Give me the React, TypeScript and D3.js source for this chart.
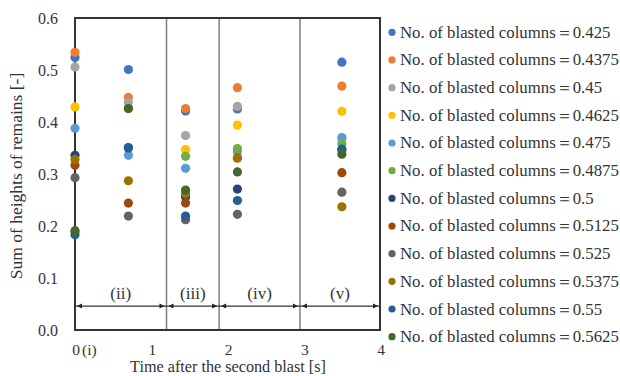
import React from "react";
import * as d3 from "d3";

const times = [0, 0.7, 1.45, 2.13, 3.5];
const seriesLabels = ["0.425", "0.4375", "0.45", "0.4625", "0.475", "0.4875", "0.5", "0.5125", "0.525", "0.5375", "0.55", "0.5625"];
const seriesColors = ["#4472C4", "#ED7D31", "#A5A5A5", "#FFC000", "#5B9BD5", "#70AD47", "#264478", "#9E480E", "#636363", "#997300", "#255E91", "#43682B"];
const s0425 = [0.524, 0.501, 0.421, 0.425, 0.515];
const s04375 = [0.534, 0.4475, 0.426, 0.466, 0.469];
const s045 = [0.506, 0.438, 0.374, 0.43, 0.368];
const s04625 = [0.429, 0.426, 0.347, 0.394, 0.4205];
const s0475 = [0.388, 0.336, 0.311, 0.343, 0.37];
const s04875 = [0.189, 0.426, 0.334, 0.349, 0.358];
const s05 = [0.336, 0.35, 0.256, 0.271, 0.346];
const s05125 = [0.317, 0.244, 0.244, 0.331, 0.3025];
const s0525 = [0.293, 0.219, 0.212, 0.2225, 0.265];
const s05375 = [0.328, 0.287, 0.262, 0.331, 0.237];
const s055 = [0.183, 0.351, 0.219, 0.249, 0.348];
const s05625 = [0.191, 0.426, 0.269, 0.304, 0.338];
const seriesValues = [s0425, s04375, s045, s04625, s0475, s04875, s05, s05125, s0525, s05375, s055, s05625];

const xTicks = [0, 1, 2, 3, 4];
const yTicks = [0, 0.1, 0.2, 0.3, 0.4, 0.5, 0.6];
const phaseBounds = [0, 1.2, 1.89, 2.95, 4];
const phaseLabels = ["(ii)", "(iii)", "(iv)", "(v)"];
const arrowLevel = 0.046;

const FONT = "Liberation Serif, Times New Roman, serif";

export default function App() {
  const W = 620, H = 376;
  const x = d3.scaleLinear().domain([0, 4]).range([75, 380]);
  const y = d3.scaleLinear().domain([0, 0.6]).range([330, 18]);
  const textColor = "#333";
  const ay = y(arrowLevel);

  const arrowHead = (xp: number, dir: number, key: string) => (
    <path key={key} d={`M${xp},${ay} L${xp + dir * 5},${ay - 2.5} L${xp + dir * 5},${ay + 2.5} Z`} fill="#222" />
  );

  return (
    <svg width={W} height={H} style={{ position: "absolute", left: 0, top: 0, background: "#fff" }} fontFamily={FONT}>
      {phaseBounds.slice(1, -1).map((b, i) => (
        <line key={"v" + i} x1={x(b)} x2={x(b)} y1={y(0.6)} y2={y(0)} stroke="#808080" strokeWidth={1.5} />
      ))}
      <line x1={x(0)} x2={x(4)} y1={ay} y2={ay} stroke="#333" strokeWidth={1.3} />
      {phaseBounds.slice(0, -1).map((b, i) => {
        const a = x(b) + 2, c = x(phaseBounds[i + 1]) - 2;
        return (
          <g key={"a" + i}>
            {arrowHead(a, 1, "l")}
            {arrowHead(c, -1, "r")}
            <text x={(x(b) + x(phaseBounds[i + 1])) / 2} y={ay - 7} textAnchor="middle" fontSize={17} fill={textColor}>
              {phaseLabels[i]}
            </text>
          </g>
        );
      })}
      <rect x={x(0)} y={y(0.6)} width={x(4) - x(0)} height={y(0) - y(0.6)} fill="none" stroke="#333" strokeWidth={2} />
      {yTicks.map((t) => (
        <text key={"y" + t} x={58} y={y(t) + 5.5} textAnchor="end" fontSize={16} fill={textColor}>
          {d3.format(".1f")(t)}
        </text>
      ))}
      {xTicks.map((t) => (
        <text key={"x" + t} x={x(t) + 1} y={354.5} textAnchor="middle" fontSize={15.5} fill={textColor}>
          {t}
        </text>
      ))}
      <text x={82} y={354.5} fontSize={15.5} fill={textColor}>(i)</text>
      <text x={228} y={372.3} textAnchor="middle" fontSize={16.2} fill={textColor}>Time after the second blast [s]</text>
      <text transform={`translate(22,176) rotate(-90)`} textAnchor="middle" fontSize={17.5} fill={textColor}>
        Sum of heights of remains [-]
      </text>
      {seriesValues.map((vals, si) => (
        <g key={"s" + si}>
          {vals.map((v, ti) => (
            <circle key={ti} cx={x(times[ti])} cy={y(v)} r={4.6} fill={seriesColors[si]} />
          ))}
        </g>
      ))}
      {seriesLabels.map((lab, i) => {
        const ly = 32.3 + i * 27.67;
        return (
          <g key={"lg" + i}>
            <circle cx={392} cy={ly} r={3.6} fill={seriesColors[i]} />
            <text x={400} y={ly + 5.5} fontSize={16.8} fill={textColor}>
              {"No. of blasted columns\uFF1D" + lab}
            </text>
          </g>
        );
      })}
    </svg>
  );
}
